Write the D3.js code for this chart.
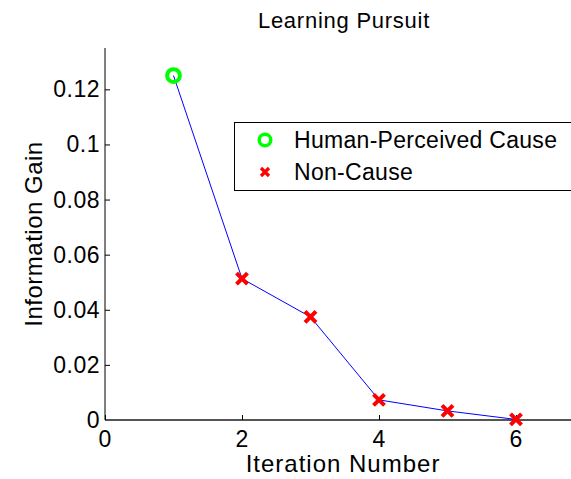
<!DOCTYPE html>
<html>
<head>
<meta charset="utf-8">
<script src="https://cdn.jsdelivr.net/npm/d3@7"></script>
<style>
  body { margin: 0; background: #fff; }
  text { font-family: "Liberation Sans", Arial, sans-serif; fill: #000; }
</style>
</head>
<body>
<div id="chart"></div>
<script>
// data
const iterations = [1, 2, 3, 4, 5, 6];
const infoGain = [0.125, 0.0513, 0.0374, 0.0073, 0.0033, 0.0002];
const causeKind = ["cause", "non", "non", "non", "non", "non"];
const xTicks = [0, 2, 4, 6];
const yTicks = [0, 0.02, 0.04, 0.06, 0.08, 0.1, 0.12];
const legendLabels = ["Human-Perceived Cause", "Non-Cause"];

const width = 571, height = 479;
const margin = {left: 105, top: 48, bottom: 59};

const svg = d3.select("#chart").append("svg")
  .attr("width", width)
  .attr("height", height);

svg.append("rect").attr("width", width).attr("height", height).attr("fill", "#fff");

const x = d3.scaleLinear().domain([0, 7]).range([margin.left, margin.left + 7 * 68.5]);
const y = d3.scaleLinear().domain([0, 0.135]).range([height - margin.bottom, margin.top]);

// title
svg.append("text")
  .attr("x", 344).attr("y", 28)
  .attr("text-anchor", "middle")
  .attr("font-size", "22px")
  .attr("letter-spacing", "0.75px")
  .text("Learning Pursuit");

// y axis (ticks point inward)
const yAxis = svg.append("g")
  .attr("transform", `translate(${margin.left},0)`)
  .call(d3.axisRight(y).tickValues(yTicks).tickSize(5).tickFormat(""));
yAxis.select(".domain").attr("d", `M0,${y(0)}V${margin.top}`).attr("stroke", "#000");
yAxis.selectAll(".tick line").attr("stroke", "#000");

svg.selectAll(".ylab")
  .data(yTicks)
  .enter().append("text")
  .attr("class", "ylab")
  .attr("x", margin.left - 5)
  .attr("y", d => y(d) + 8)
  .attr("text-anchor", "end")
  .attr("font-size", "23px")
  .attr("letter-spacing", "0.5px")
  .text(d => d3.format("")(+d.toFixed(2)));

// x axis
const xAxis = svg.append("g")
  .attr("transform", `translate(0,${y(0)})`)
  .call(d3.axisTop(x).tickValues(xTicks).tickSize(5).tickFormat(""));
xAxis.select(".domain").attr("d", `M${x(0)},0H${x(7)}`).attr("stroke", "#555").attr("stroke-width", 2);
xAxis.selectAll(".tick line").attr("stroke", "#000");

svg.selectAll(".xlab")
  .data(xTicks)
  .enter().append("text")
  .attr("class", "xlab")
  .attr("x", d => x(d))
  .attr("y", y(0) + 27)
  .attr("text-anchor", "middle")
  .attr("font-size", "23px")
  .text(d => d);

// axis labels
svg.append("text")
  .attr("x", 343).attr("y", 472)
  .attr("text-anchor", "middle")
  .attr("font-size", "24px")
  .attr("letter-spacing", "1px")
  .text("Iteration Number");

svg.append("text")
  .attr("transform", `translate(42,${(y(0) + margin.top) / 2}) rotate(-90)`)
  .attr("text-anchor", "middle")
  .attr("font-size", "24px")
  .attr("letter-spacing", "0.5px")
  .text("Information Gain");

// line
const points = iterations.map((d, i) => ({x: d, y: infoGain[i], kind: causeKind[i]}));

svg.append("path")
  .datum(points)
  .attr("fill", "none")
  .attr("stroke", "#0000ff")
  .attr("stroke-width", 1)
  .attr("d", d3.line().x(d => x(d.x)).y(d => y(d.y)));

function drawCross(g, cx, cy, s, w) {
  g.append("path")
    .attr("d", `M${cx - s},${cy - s}L${cx + s},${cy + s}M${cx - s},${cy + s}L${cx + s},${cy - s}`)
    .attr("stroke", "#ff0000")
    .attr("stroke-width", w)
    .attr("fill", "none");
}

const markers = svg.append("g");
points.forEach(p => {
  if (p.kind === "cause") {
    markers.append("circle")
      .attr("cx", x(p.x)).attr("cy", y(p.y))
      .attr("r", 6.4)
      .attr("fill", "none")
      .attr("stroke", "#00ff00")
      .attr("stroke-width", 4);
  } else {
    drawCross(markers, x(p.x), y(p.y), 5.5, 4);
  }
});

// legend (runs off the right edge like the reference)
const legend = svg.append("g");
legend.append("rect")
  .attr("x", 234.5).attr("y", 122.5)
  .attr("width", 360).attr("height", 68)
  .attr("fill", "#fff")
  .attr("stroke", "#000");

legend.append("circle")
  .attr("cx", 265).attr("cy", 140)
  .attr("r", 5.8)
  .attr("fill", "none")
  .attr("stroke", "#00ff00")
  .attr("stroke-width", 3.5);
drawCross(legend, 265, 172, 4, 3.2);

legend.selectAll(".legtext")
  .data(legendLabels)
  .enter().append("text")
  .attr("class", "legtext")
  .attr("x", 294)
  .attr("y", (d, i) => 148 + i * 32)
  .attr("font-size", "23px")
  .attr("letter-spacing", "0.3px")
  .text(d => d);
</script>
</body>
</html>
